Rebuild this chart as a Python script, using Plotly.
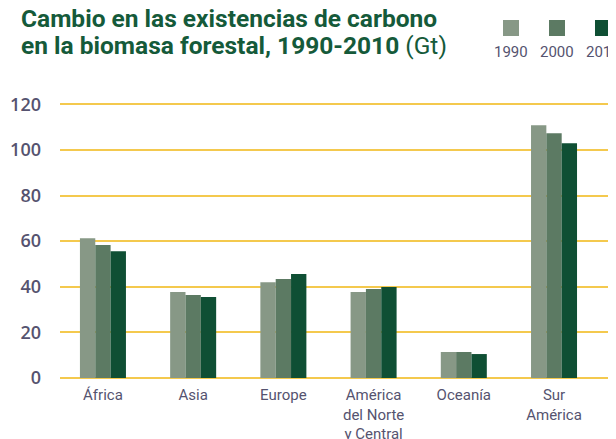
import plotly.graph_objects as go

categories = ["África", "Asia", "Europe", "América<br>del Norte<br>y Central", "Oceanía", "Sur<br>América"]
years = ["1990", "2000", "2010"]
values_1990 = [61.3, 37.7, 42.0, 37.7, 11.4, 110.8]
values_2000 = [58.3, 36.4, 43.4, 39.0, 11.4, 107.3]
values_2010 = [55.6, 35.5, 45.6, 39.9, 10.5, 102.9]
colors = ["#879886", "#5c7a63", "#0f4f34"]
y_ticks = [0, 20, 40, 60, 80, 100, 120]

# the page body has an 8px margin, so the figure is drawn from (8, 8)
OFF = 8
W, H = 616 - OFF, 439 - OFF
TEXT = "#55536f"
TITLE = "#155a3a"
GRID = "#f4c94e"


def px(x):
    return (x - OFF) / W


def py(y):
    return 1 - (y - OFF) / H


series = [values_1990, values_2000, values_2010]
fig = go.Figure()
for name, vals, col in zip(years, series, colors):
    fig.add_trace(go.Bar(x=list(range(len(categories))), y=vals, name=name,
                         marker=dict(color=col, line=dict(width=0))))

fig.update_layout(
    width=W, height=H,
    margin=dict(l=0, r=0, t=0, b=0),
    paper_bgcolor="white", plot_bgcolor="white",
    barmode="group", bargap=0.49, bargroupgap=0,
    showlegend=False,
    xaxis=dict(domain=[px(60), 1], range=[-0.476, 5.687],
               tickmode="array", tickvals=list(range(len(categories))), ticktext=categories,
               showgrid=False, zeroline=False, showline=False, automargin=False,
               tickfont=dict(family="Roboto", size=15, color=TEXT), ticks="", ticklabelstandoff=6),
    yaxis=dict(domain=[py(378), py(102)], range=[0, 121],
               tickmode="array", tickvals=y_ticks,
               showgrid=True, gridcolor=GRID, gridwidth=1.5,
               zeroline=True, zerolinecolor=GRID, zerolinewidth=1.5,
               showline=False, automargin=False, ticks="",
               tickfont=dict(family="Open Sans", size=18, color=TEXT, weight=600),
               ticklabelstandoff=18),
)

# Title (two lines)
title_lines = ["<b>Cambio en las existencias de carbono</b>",
               "<b>en la biomasa forestal, 1990-2010</b> (Gt)"]
for i, t in enumerate(title_lines):
    fig.add_annotation(text=t, xref="paper", yref="paper", x=px(19), y=py(19 + 27 * i),
                       xanchor="left", yanchor="middle", showarrow=False,
                       font=dict(family="Roboto", size=24.5, color=TITLE))

# Custom legend: square above label
for i, (name, col) in enumerate(zip(years, colors)):
    cx = 511 + 46 * i
    fig.add_shape(type="rect", xref="paper", yref="paper",
                  x0=px(cx - 8), x1=px(cx + 8), y0=py(36), y1=py(20),
                  fillcolor=col, line=dict(width=0))
    fig.add_annotation(text=name, xref="paper", yref="paper", x=px(cx), y=py(52),
                       xanchor="center", yanchor="middle", showarrow=False,
                       font=dict(family="Roboto", size=15, color=TEXT))

fig.write_html("out.html")
